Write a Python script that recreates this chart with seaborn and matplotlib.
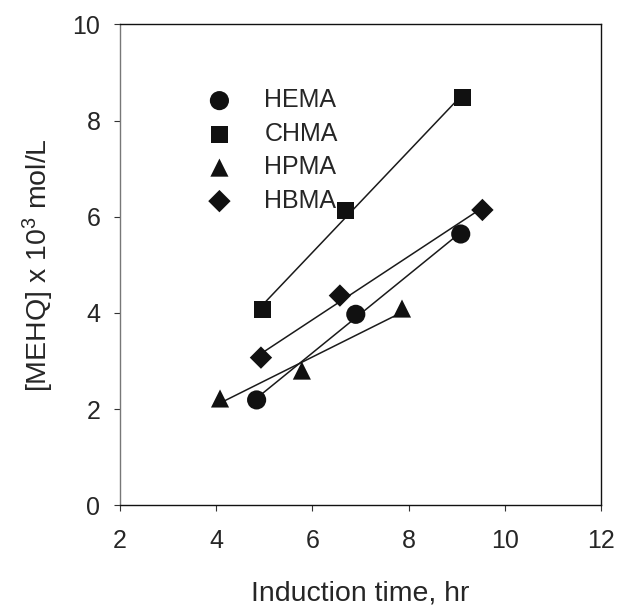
import matplotlib
matplotlib.use("Agg")
import matplotlib.pyplot as plt
import seaborn as sns
import pandas as pd
import numpy as np

series_names = ["HEMA", "CHMA", "HPMA", "HBMA"]
hema_x = [4.84, 6.90, 9.08]
hema_y = [2.19, 3.97, 5.64]
chma_x = [4.97, 6.68, 9.12]
chma_y = [4.08, 6.13, 8.48]
hpma_x = [4.08, 5.78, 7.86]
hpma_y = [2.22, 2.80, 4.09]
hbma_x = [4.93, 6.57, 9.53]
hbma_y = [3.07, 4.36, 6.14]
x_ticks = [2, 4, 6, 8, 10, 12]
y_ticks = [0, 2, 4, 6, 8, 10]

sns.set_theme(style="white")
plt.rcParams['font.family'] = ['Liberation Sans', 'DejaVu Sans']
plt.rcParams['mathtext.fontset'] = 'custom'
plt.rcParams['mathtext.rm'] = 'Liberation Sans'
plt.rcParams['mathtext.it'] = 'Liberation Sans:italic'

xs = [hema_x, chma_x, hpma_x, hbma_x]
ys = [hema_y, chma_y, hpma_y, hbma_y]
df = pd.DataFrame({
    "x": sum(xs, []),
    "y": sum(ys, []),
    "series": sum([[n] * len(x) for n, x in zip(series_names, xs)], []),
})

fig = plt.figure(figsize=(6.18, 6.08), dpi=100)
ax = fig.add_axes([0.194, 0.169, 0.779, 0.791])

for name in series_names:
    sub = df[df.series == name]
    sns.regplot(data=sub, x="x", y="y", ax=ax, ci=None, scatter=False,
                truncate=True, color="#1a1a1a", line_kws={"lw": 1.1})

markers = {"HEMA": "o", "CHMA": "s", "HPMA": "^", "HBMA": "D"}
sizes = {"HEMA": 190, "CHMA": 150, "HPMA": 170, "HBMA": 130}
for name in series_names:
    sub = df[df.series == name]
    ax.scatter(sub.x, sub.y, marker=markers[name], s=sizes[name],
               color="#111111", edgecolors="none", zorder=3, label=name)

ax.set_xlim(2, 12)
ax.set_ylim(0, 10)
ax.set_xticks(x_ticks)
ax.set_yticks(y_ticks)
ax.tick_params(axis="both", which="major", labelsize=18, direction="out",
               length=4, width=0.8, color="#333333", bottom=True, left=True,
               top=False, right=False)
ax.tick_params(axis="x", pad=13)
ax.tick_params(axis="y", pad=10)
for s in ["top", "right", "bottom"]:
    ax.spines[s].set_color("#111111")
    ax.spines[s].set_linewidth(1.0)
ax.spines["left"].set_color("#777777")
ax.spines["left"].set_linewidth(1.0)

ax.set_xlabel("Induction time, hr", fontsize=20.5, labelpad=20)
ax.set_ylabel(r"[MEHQ] x 10$^{\mathrm{3}}$ mol/L", fontsize=20.5, labelpad=12)

leg = ax.legend(loc="upper left", bbox_to_anchor=(0.16, 0.888), frameon=False,
                fontsize=18, handletextpad=1.3, labelspacing=0.38,
                borderaxespad=0, handlelength=1.0)

fig.savefig("out.png", dpi=100)
